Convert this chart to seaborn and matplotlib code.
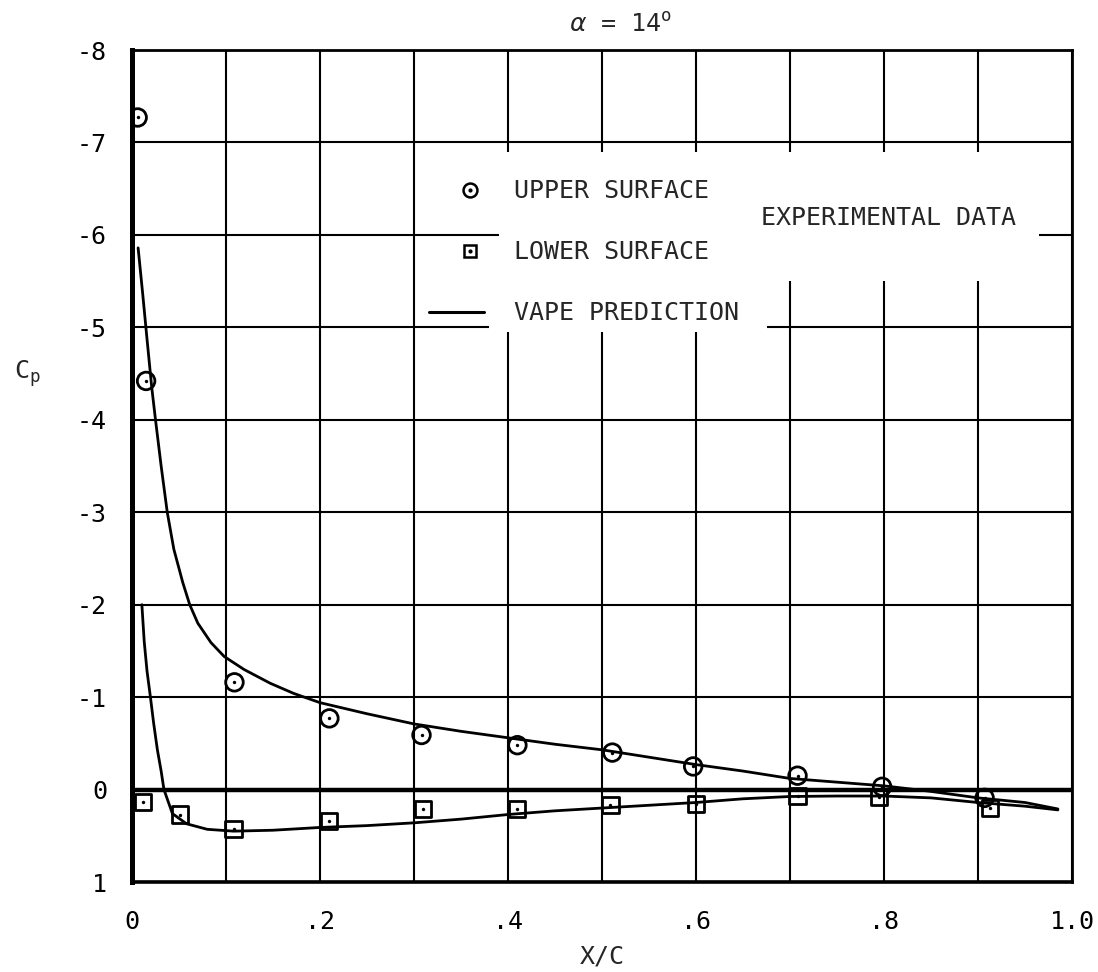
import numpy as np
import pandas as pd
import matplotlib
matplotlib.use("Agg")
import matplotlib.pyplot as plt
import seaborn as sns
from matplotlib.lines import Line2D
from matplotlib.patches import Rectangle
from matplotlib.legend_handler import HandlerTuple, HandlerLine2D

# ---------------- data ----------------
upper_x = [0.006, 0.015, 0.109, 0.210, 0.308, 0.410, 0.511, 0.597, 0.708, 0.798, 0.907]
upper_cp = [-7.27, -4.42, -1.16, -0.77, -0.59, -0.48, -0.40, -0.25, -0.15, -0.03, 0.09]

lower_x = [0.012, 0.051, 0.108, 0.210, 0.310, 0.410, 0.509, 0.600, 0.708, 0.795, 0.913]
lower_cp = [0.13, 0.27, 0.43, 0.34, 0.21, 0.21, 0.17, 0.16, 0.07, 0.08, 0.20]

pred_upper_x = [0.0065, 0.0115, 0.016, 0.021, 0.025, 0.031, 0.0375, 0.0445, 0.054, 0.0614,
                0.070, 0.084, 0.098, 0.119, 0.147, 0.172, 0.200, 0.250, 0.300, 0.350,
                0.400, 0.450, 0.500, 0.550, 0.600, 0.650, 0.700, 0.750, 0.800, 0.850,
                0.900, 0.950, 0.985]
pred_upper_cp = [-5.86, -5.35, -4.87, -4.35, -4.00, -3.50, -3.00, -2.60, -2.24, -2.00,
                 -1.80, -1.59, -1.44, -1.30, -1.15, -1.04, -0.94, -0.82, -0.71, -0.63,
                 -0.56, -0.49, -0.43, -0.35, -0.27, -0.20, -0.12, -0.08, -0.04, 0.02,
                 0.09, 0.14, 0.21]

pred_lower_x = [0.0105, 0.013, 0.016, 0.0196, 0.023, 0.027, 0.031, 0.034, 0.043, 0.058,
                0.080, 0.108, 0.150, 0.200, 0.250, 0.300, 0.350, 0.400, 0.450, 0.500,
                0.550, 0.600, 0.650, 0.700, 0.750, 0.800, 0.850, 0.900, 0.950, 0.985]
pred_lower_cp = [-2.00, -1.60, -1.28, -1.00, -0.72, -0.43, -0.20, 0.00, 0.26, 0.37,
                 0.43, 0.45, 0.44, 0.41, 0.39, 0.36, 0.32, 0.27, 0.23, 0.20,
                 0.17, 0.14, 0.10, 0.075, 0.07, 0.07, 0.09, 0.14, 0.18, 0.22]

x_major = [0.0, 0.2, 0.4, 0.6, 0.8, 1.0]
x_tick_labels = ["0", ".2", ".4", ".6", ".8", "1.0"]
x_minor = [0.1, 0.3, 0.5, 0.7, 0.9]
y_ticks = [-8, -7, -6, -5, -4, -3, -2, -1, 0, 1]
y_tick_labels = ["-8", "-7", "-6", "-5", "-4", "-3", "-2", "-1", "0", "1"]

legend_labels = ["UPPER SURFACE", "LOWER SURFACE", "VAPE PREDICTION"]
side_label = "EXPERIMENTAL DATA"
title_text = r"$\alpha$ = 14$^{\mathrm{o}}$"

# ---------------- style ----------------
sns.set_style("white")
plt.rcParams["font.family"] = ["DejaVu Sans Mono", "DejaVu Sans"]
plt.rcParams["mathtext.fontset"] = "custom"
plt.rcParams["mathtext.rm"] = "DejaVu Sans Mono"
plt.rcParams["mathtext.it"] = "DejaVu Sans:italic"
FS = 18

fig, ax = plt.subplots(figsize=(10.98, 9.72), dpi=100)
fig.subplots_adjust(left=132/1098, right=1072/1098, top=1-50/972, bottom=1-882/972)

ax.set_xlim(0, 1.0)
ax.set_ylim(1, -8)

ax.set_xticks(x_major)
ax.set_xticklabels(x_tick_labels)
ax.set_xticks(x_minor, minor=True)
ax.set_yticks(y_ticks)
ax.set_yticklabels(y_tick_labels)
ax.set_axisbelow(True)
ax.grid(which="both", color="black", lw=1.5)
ax.tick_params(which="both", length=0, labelsize=FS, colors="black")
ax.tick_params(axis="x", pad=20)
ax.tick_params(axis="y", pad=18)

for side, lw in [("left", 3.6), ("bottom", 2.6), ("top", 2.0), ("right", 2.0)]:
    ax.spines[side].set_visible(True)
    ax.spines[side].set_color("black")
    ax.spines[side].set_linewidth(lw)

# blanked grid region behind the legend
ax.add_patch(Rectangle((0.39, -6.9), 0.575, 1.4, facecolor="white", edgecolor="none", zorder=1))
ax.add_patch(Rectangle((0.38, -5.5), 0.295, 0.55, facecolor="white", edgecolor="none", zorder=1))

# zero line
ax.axhline(0, color="black", lw=3.2, zorder=2)

# prediction curves
sns.lineplot(x=pred_upper_x, y=pred_upper_cp, sort=False, estimator=None,
             color="black", lw=2.0, ax=ax, zorder=3)
sns.lineplot(x=pred_lower_x, y=pred_lower_cp, sort=False, estimator=None,
             color="black", lw=2.0, ax=ax, zorder=3)

# experimental data
sns.scatterplot(x=upper_x, y=upper_cp, marker="o", s=160, facecolor="none",
                edgecolor="black", linewidth=2.0, ax=ax, zorder=4)
sns.scatterplot(x=upper_x, y=upper_cp, marker="o", s=6, color="black",
                edgecolor="black", linewidth=0, ax=ax, zorder=4)
sns.scatterplot(x=lower_x, y=lower_cp, marker="s", s=135, facecolor="none",
                edgecolor="black", linewidth=2.0, ax=ax, zorder=4)
sns.scatterplot(x=lower_x, y=lower_cp, marker="o", s=6, color="black",
                edgecolor="black", linewidth=0, ax=ax, zorder=4)


# legend (markers sit a little right of the handle centre, as in the original)
class ShiftedMarkerHandler(HandlerLine2D):
    def create_artists(self, legend, orig_handle, xdescent, ydescent,
                       width, height, fontsize, trans):
        return super().create_artists(legend, orig_handle, xdescent - 0.25 * width,
                                      ydescent, width, height, fontsize, trans)


up_ring = Line2D([], [], marker="o", ls="", mfc="none", mec="black", ms=10, mew=1.8)
up_dot = Line2D([], [], marker="o", ls="", color="black", ms=2)
lo_box = Line2D([], [], marker="s", ls="", mfc="none", mec="black", ms=9, mew=1.8)
lo_dot = Line2D([], [], marker="o", ls="", color="black", ms=2)
h_ln = Line2D([], [], color="black", lw=2.2)
hmap = {tuple: HandlerTuple(ndivide=1, pad=0)}
for art in (up_ring, up_dot, lo_box, lo_dot):
    hmap[art] = ShiftedMarkerHandler()
leg = ax.legend([(up_ring, up_dot), (lo_box, lo_dot), h_ln], legend_labels,
                handler_map=hmap,
                loc="upper left", bbox_to_anchor=(0.316, -6.60),
                bbox_transform=ax.transData, frameon=False, fontsize=FS,
                handlelength=2.2, handletextpad=1.2, labelspacing=1.48,
                borderpad=0, borderaxespad=0)
leg.set_zorder(5)

ax.text(0.669, -6.18, side_label, fontsize=FS, ha="left", va="center", zorder=5)

# labels
ax.text(0.52, 1.03, title_text, transform=ax.transAxes, fontsize=FS,
        ha="center", va="center")
ax.set_xlabel("X/C", fontsize=FS, va="center")
ax.xaxis.set_label_coords(0.5, -0.09)
ax.set_ylabel(r"C$_{\mathrm{p}}$", fontsize=FS, rotation=0, va="center", ha="center")
ax.yaxis.set_label_coords(-0.111, 0.611)

fig.savefig("out.png", dpi=100, facecolor="white")
